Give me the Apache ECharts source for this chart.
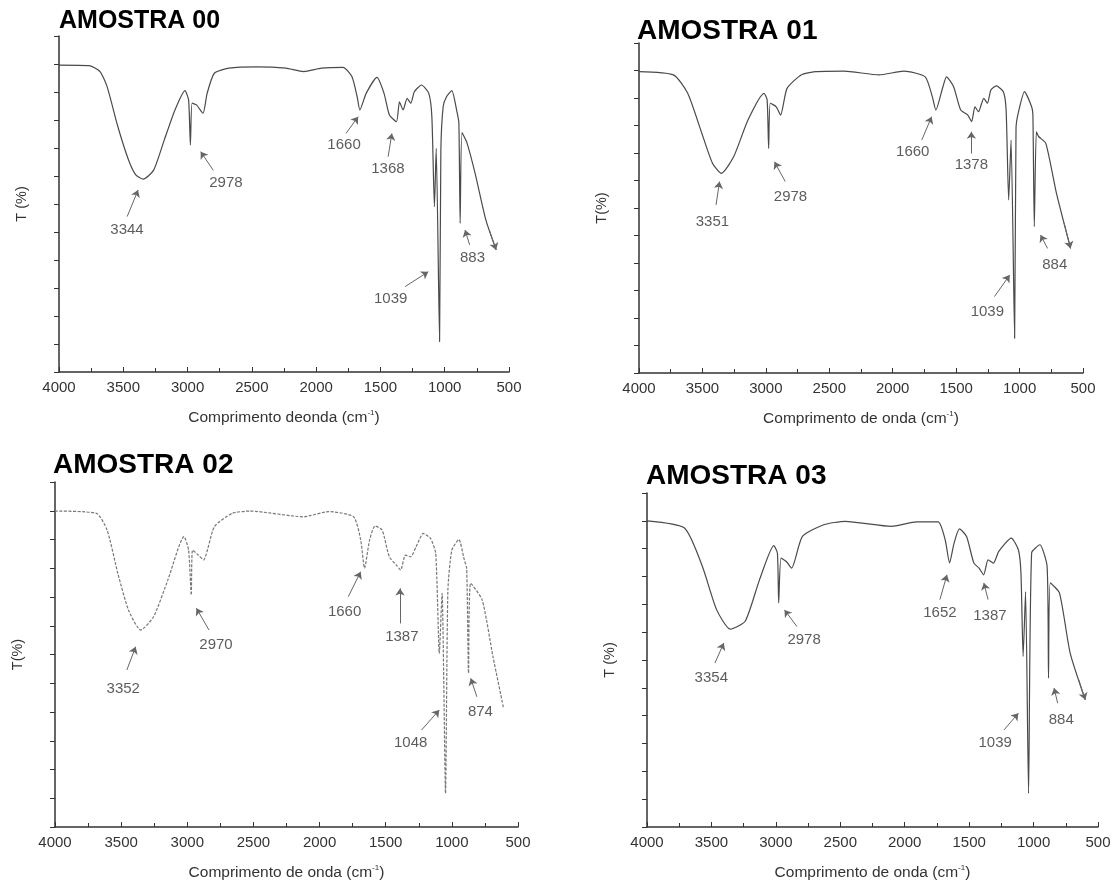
<!DOCTYPE html>
<html lang="pt">
<head>
<meta charset="UTF-8">
<script src="https://cdn.jsdelivr.net/npm/echarts@6/dist/echarts.min.js"></script>
<title>Espectros FTIR</title>
<style>
    html, body { height: 100%; }
    * { margin: 0; padding: 0; }
    #chart { width: 1115px; height: 888px; background: #fff; }
</style>
</head>
<body>
<div id="chart"></div>
<script>
// espectros: numero de onda (cm-1) e T (escala sem rotulos, 0..12)
var wave00 = [4000, 3764, 3681, 3626, 3542, 3459, 3403, 3344, 3264, 3181, 3098, 3020, 2992, 2978, 2965, 2931, 2880, 2848, 2792, 2680, 2459, 2236, 2097, 1958, 1791, 1722, 1681, 1660, 1611, 1527, 1472, 1430, 1375, 1352, 1324, 1292, 1264, 1236, 1181, 1124, 1100, 1080, 1066, 1040, 1030, 1012, 986, 945, 905, 890, 880, 866, 828, 764, 680, 600];
var trans00 = [10.96, 10.94, 10.73, 10.19, 8.76, 7.57, 7.04, 6.89, 7.21, 8.29, 9.36, 10.05, 9.71, 8.11, 9.6, 9.54, 9.24, 9.95, 10.67, 10.85, 10.9, 10.85, 10.73, 10.85, 10.88, 10.55, 9.83, 9.36, 9.95, 10.52, 9.95, 9.18, 8.94, 9.65, 9.36, 9.77, 9.6, 10.01, 10.25, 9.95, 9.12, 5.9, 7.99, 1.08, 7.9, 9.48, 9.83, 10.05, 9.3, 8.9, 5.31, 8.55, 8.2, 7.1, 5.43, 4.36];

var wave01 = [4000, 3728, 3616, 3505, 3421, 3351, 3253, 3141, 3015, 2990, 2978, 2965, 2918, 2884, 2833, 2722, 2610, 2386, 2107, 1911, 1744, 1688, 1660, 1604, 1576, 1520, 1464, 1408, 1378, 1352, 1324, 1282, 1254, 1226, 1184, 1128, 1106, 1086, 1067, 1039, 1028, 1011, 961, 905, 895, 884, 868, 850, 793, 709, 598];
var trans01 = [10.96, 10.84, 10.17, 8.72, 7.63, 7.26, 7.87, 9.2, 10.17, 9.93, 8.17, 9.81, 9.68, 9.38, 10.35, 10.84, 10.96, 10.98, 10.84, 10.98, 10.77, 10.05, 9.56, 10.41, 10.77, 10.41, 9.56, 9.38, 9.14, 9.68, 9.5, 9.99, 9.81, 10.29, 10.44, 10.23, 9.56, 6.29, 8.47, 1.26, 8.9, 9.44, 10.23, 9.68, 9.4, 5.32, 8.77, 8.6, 8.35, 6.53, 4.53];

var wave02 = [4000, 3687, 3606, 3525, 3444, 3352, 3255, 3147, 3025, 2990, 2970, 2960, 2917, 2877, 2796, 2661, 2526, 2121, 1932, 1743, 1689, 1660, 1622, 1581, 1527, 1473, 1419, 1387, 1351, 1311, 1270, 1216, 1162, 1122, 1095, 1074, 1048, 1030, 1000, 947, 906, 888, 874, 858, 771, 689, 609];
var trans02 = [10.99, 10.91, 10.33, 8.82, 7.54, 6.85, 7.31, 8.59, 10.1, 9.63, 8.07, 9.63, 9.46, 9.29, 10.44, 10.91, 10.99, 10.79, 10.97, 10.79, 9.98, 9.0, 9.98, 10.47, 10.33, 9.4, 9.11, 8.94, 9.46, 9.4, 9.75, 10.21, 10.04, 9.52, 6.04, 8.13, 1.17, 8.24, 9.63, 10.0, 9.29, 9.0, 5.35, 8.48, 7.9, 5.92, 4.13];

var wave03 = [4000, 3709, 3570, 3460, 3354, 3238, 3127, 3016, 2988, 2978, 2960, 2919, 2878, 2794, 2628, 2462, 2102, 1908, 1741, 1686, 1652, 1617, 1575, 1520, 1464, 1423, 1387, 1353, 1312, 1270, 1173, 1118, 1098, 1081, 1062, 1039, 1015, 951, 895, 884, 870, 799, 716, 599];
var trans03 = [11.0, 10.74, 9.36, 7.81, 7.11, 7.39, 8.88, 10.11, 9.84, 8.05, 9.66, 9.54, 9.3, 10.44, 10.86, 10.98, 10.8, 10.96, 10.96, 10.32, 9.49, 10.2, 10.71, 10.44, 9.49, 9.3, 9.06, 9.6, 9.48, 9.9, 10.38, 9.96, 9.13, 6.13, 8.46, 1.21, 9.85, 10.14, 9.36, 5.35, 8.77, 8.41, 6.25, 4.57];

// picos: texto, ponto do texto, inicio e ponta da seta (em coordenadas do grafico)
var peaks00 = [
    ['3344', 3471, 5.07, 3470, 5.55, 3385, 6.5],
    ['2978', 2702, 6.75, 2800, 7.2, 2898, 7.87],
    ['1660', 1783, 8.1, 1768, 8.52, 1673, 9.12],
    ['1368', 1442, 7.27, 1440, 7.69, 1411, 8.52],
    ['1039', 1420, 2.63, 1308, 3.05, 1128, 3.58],
    ['883', 784, 4.07, 806, 4.54, 842, 5.07]
];
var peaks01 = [
    ['3351', 3421, 5.5, 3393, 6.11, 3365, 6.96],
    ['2978', 2806, 6.41, 2847, 6.96, 2932, 7.68],
    ['1660', 1842, 8.05, 1771, 8.47, 1693, 9.32],
    ['1378', 1380, 7.56, 1380, 7.98, 1380, 8.77],
    ['1039', 1254, 2.23, 1198, 2.78, 1078, 3.56],
    ['884', 723, 3.93, 779, 4.53, 835, 5.02]
];
var peaks02 = [
    ['3352', 3484, 4.82, 3457, 5.46, 3390, 6.27],
    ['2970', 2783, 6.33, 2836, 6.85, 2931, 7.61],
    ['1660', 1811, 7.49, 1783, 8.01, 1689, 8.88],
    ['1387', 1378, 6.62, 1392, 7.08, 1392, 8.3],
    ['1048', 1311, 2.91, 1230, 3.37, 1095, 4.07],
    ['874', 784, 4.01, 811, 4.53, 857, 5.17]
];
var peaks03 = [
    ['3354', 3501, 5.35, 3473, 5.89, 3404, 6.61],
    ['2978', 2781, 6.73, 2836, 7.2, 2933, 7.8],
    ['1652', 1727, 7.69, 1727, 8.17, 1672, 9.06],
    ['1387', 1339, 7.57, 1353, 8.17, 1386, 8.77],
    ['1039', 1298, 3.01, 1229, 3.49, 1118, 4.09],
    ['884', 785, 3.85, 813, 4.45, 841, 4.99]
];
// seta no fim da curva
var endArrow = [650, 600];

var titles = ['AMOSTRA 00', 'AMOSTRA 01', 'AMOSTRA 02', 'AMOSTRA 03'];
var xNames = ['Comprimento deonda (cm{sup|-1})', 'Comprimento de onda (cm{sup|-1})', 'Comprimento de onda (cm{sup|-1})', 'Comprimento de onda (cm{sup|-1})'];
var yNames = ['T (%)', 'T(%)', 'T(%)', 'T (%)'];

var waves = [wave00, wave01, wave02, wave03];
var trans = [trans00, trans01, trans02, trans03];
var peaks = [peaks00, peaks01, peaks02, peaks03];

var font = 'Liberation Sans, Arial, sans-serif';
var grids = [
    { left: 59, top: 36, width: 450, height: 336 },
    { left: 639, top: 43, width: 444, height: 330 },
    { left: 55, top: 482, width: 463, height: 345 },
    { left: 647, top: 493, width: 451, height: 334 }
];
var titlePos = [
    { left: 59, top: 9, size: 25 },
    { left: 637, top: 17, size: 28 },
    { left: 53, top: 451, size: 28 },
    { left: 646, top: 462, size: 28 }
];

var myChart = echarts.init(document.getElementById('chart'));

var xAxes = [], yAxes = [], series = [], titleList = [];
for (var i = 0; i < 4; i++) {
    titleList.push({
        text: titles[i],
        left: titlePos[i].left,
        top: titlePos[i].top,
        padding: 0,
        textStyle: { fontFamily: font, fontSize: titlePos[i].size, fontWeight: 'bold', color: '#000' }
    });
    xAxes.push({
        type: 'value', gridIndex: i, inverse: true,
        min: 500, max: 4000, interval: 500,
        name: xNames[i], nameLocation: 'middle', nameGap: 37,
        nameTextStyle: {
            fontFamily: font, fontSize: 15.5, color: '#333',
            rich: { sup: { fontSize: 8, verticalAlign: 'top', padding: [0, 0, 9, 0], color: '#333', fontFamily: font } }
        },
        axisLine: { show: true, lineStyle: { color: '#333', width: 1.5 } },
        axisTick: { show: true, inside: true, length: 5, lineStyle: { color: '#333' } },
        minorTick: { show: true, splitNumber: 2, length: 4, lineStyle: { color: '#333' } },
        splitLine: { show: false },
        axisLabel: {
            fontFamily: font, fontSize: 15, color: '#333', margin: 8,
            formatter: function (v) { return String(v); }
        }
    });
    yAxes.push({
        type: 'value', gridIndex: i,
        min: 0, max: 12, interval: 1,
        name: yNames[i], nameLocation: 'middle', nameGap: 30,
        nameTextStyle: { fontFamily: font, fontSize: 14.5, color: '#333' },
        axisLine: { show: true, lineStyle: { color: '#333', width: 1.5 } },
        axisTick: { show: true, inside: false, length: 5, lineStyle: { color: '#333' } },
        splitLine: { show: false },
        axisLabel: { show: false }
    });

    var line = [];
    for (var k = 0; k < waves[i].length; k++) line.push([waves[i][k], trans[i][k]]);

    var arrows = peaks[i].map(function (p) {
        return [{ coord: [p[3], p[4]] }, { coord: [p[5], p[6]] }];
    });
    if (i !== 2) {
        var n = waves[i].length;
        var w1 = endArrow[0];
        var j = 0;
        while (waves[i][j + 1] > w1) j++;
        var f = (waves[i][j] - w1) / (waves[i][j] - waves[i][j + 1]);
        var t1 = trans[i][j] + f * (trans[i][j + 1] - trans[i][j]);
        arrows.push([{ coord: [w1, t1] }, { coord: [waves[i][n - 1], trans[i][n - 1]] }]);
    }

    series.push({
        type: 'line', xAxisIndex: i, yAxisIndex: i,
        data: line, showSymbol: false, smooth: 0.2,
        lineStyle: i === 2 ? { color: '#777', width: 1.2, type: [3, 1.5] } : { color: '#4a4a4a', width: 1.2 },
        markLine: {
            silent: true, animation: false,
            symbol: ['none', 'arrow'], symbolSize: 7,
            lineStyle: { color: '#666', width: 1, type: 'solid' },
            itemStyle: { color: '#222' },
            label: { show: false },
            data: arrows
        }
    });
    series.push({
        type: 'scatter', xAxisIndex: i, yAxisIndex: i,
        symbolSize: 1, itemStyle: { color: 'rgba(0,0,0,0)' },
        data: peaks[i].map(function (p) { return [p[1], p[2], p[0]]; }),
        label: {
            show: true, position: 'inside',
            fontFamily: font, fontSize: 15, color: '#333',
            formatter: function (d) { return d.value[2]; }
        }
    });
}

var option = {
    backgroundColor: '#ffffff',
    animation: false,
    title: titleList,
    grid: grids,
    xAxis: xAxes,
    yAxis: yAxes,
    series: series
};
myChart.setOption(option);
</script>
</body>
</html>
